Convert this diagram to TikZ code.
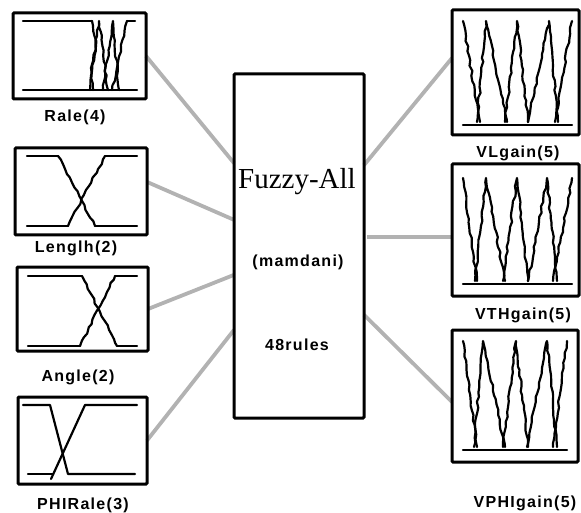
\documentclass[tikz,border=0pt]{standalone}
\usepackage{fontspec}
\setmainfont{Liberation Serif}
\newfontfamily\labfont[LetterSpace=8]{Liberation Sans}
\usetikzlibrary{calc,backgrounds,decorations.pathmorphing}

\begin{document}
\begin{tikzpicture}[x=1pt,y=-1pt,
  fbox/.style={draw, line width=3pt, rounded corners=1pt, inner sep=0pt, outer sep=0pt},
  mf/.style={line width=2.2pt, line join=round, line cap=round},
  jag/.style={mf, decorate, decoration={random steps, segment length=5pt, amplitude=1pt}},
  link/.style={draw=black!30, line width=3.8pt},
  lab/.style={font=\labfont\bfseries\fontsize{16}{16}\selectfont, inner sep=0pt},
]
\pgfmathsetseed{7}
\useasboundingbox (0,0) rectangle (581,513);

% ---------- input variable boxes ----------
\node[fbox, minimum width=133pt, minimum height=86pt]  (rate) at (79.5,56) {};
\node[fbox, minimum width=132pt, minimum height=87pt]  (len)  at (81,191.5) {};
\node[fbox, minimum width=131pt, minimum height=84pt]  (ang)  at (82.5,309) {};
\node[fbox, minimum width=129pt, minimum height=87pt]  (phi)  at (82.5,440.5) {};

\node[lab] (ratelab) at (75,117) {Rale(4)};
\node[lab] (lenlab)  at (76,248) {Lenglh(2)};
\node[lab] (anglab)  at (78,377) {Angle(2)};
\node[lab] (philab)  at (83,505) {PHIRale(3)};

% Rale(4)
\draw[mf] (23,90) -- (137,90);
\draw[mf] (23,21) -- (92,21);
\draw[jag] (92,21) -- (96,45) -- (91,68) -- (93,90);
\draw[jag] (90,90) -- (99,21) -- (108,90);
\draw[jag] (103,90) -- (113,21) -- (119,90);
\draw[jag] (112,90) -- (127,21);
\draw[mf] (127,21) -- (135,21);

% Lenglh(2)
\draw[mf] (27,156) -- (58,156);
\draw[jag] (58,156) -- (95,226);
\draw[mf] (95,226) -- (137,226);
\draw[mf] (27,226) -- (68,226);
\draw[jag] (68,226) -- (105,156);
\draw[mf] (105,156) -- (137,156);

% Angle(2)
\draw[mf] (28,276) -- (82,276);
\draw[jag] (82,276) -- (117,346);
\draw[mf] (117,346) -- (137,346);
\draw[mf] (28,346) -- (80,346);
\draw[jag] (80,346) -- (115,276);
\draw[mf] (115,276) -- (137,276);

% PHIRale(3)
\draw[mf] (23,405) -- (50,405) -- (68,474) -- (135,474);
\draw[mf] (28,474) -- (53,474);
\draw[mf] (51,479) -- (85,405) -- (137,405);

% ---------- rule block ----------
\node[fbox, minimum width=130pt, minimum height=344pt] (fz) at (299,246) {};
\node[font=\fontsize{29}{29}\selectfont, inner sep=0pt] (fzname) at (297,182) {Fuzzy-All};
\node[lab] (fztype)  at (298,262) {(mamdani)};
\node[lab] (fzrules) at (297,345) {48rules};

% ---------- output variable boxes ----------
\node[fbox, minimum width=127pt, minimum height=125pt] (vl)   at (515.5,72.5) {};
\node[fbox, minimum width=127pt, minimum height=132pt] (vth)  at (515.5,230) {};
\node[fbox, minimum width=126pt, minimum height=132pt] (vphi) at (515,396) {};

\node[lab] (vllab)   at (518,153) {VLgain(5)};
\node[lab] (vthlab)  at (523,315) {VTHgain(5)};
\node[lab] (vphilab) at (525,503) {VPHIgain(5)};

% VLgain(5)
\draw[mf] (463,125) -- (572,125);
\draw[jag] (463,21) -- (480,122);
\draw[jag] (477,122) -- (486,21) -- (507,122);
\draw[jag] (505,122) -- (517,21) -- (528,122);
\draw[jag] (528,122) -- (549,21) -- (558,122);
\draw[jag] (555,122) -- (572,21);

% VTHgain(5)
\draw[mf] (463,284) -- (572,284);
\draw[jag] (463,178) -- (477,281);
\draw[jag] (475,281) -- (486,178) -- (505,281);
\draw[jag] (503,281) -- (517,178) -- (528,281);
\draw[jag] (528,281) -- (547,178) -- (557,281);
\draw[jag] (553,281) -- (572,178);

% VPHIgain(5)
\draw[mf] (463,450) -- (567,450);
\draw[jag] (463,341) -- (477,447);
\draw[jag] (474,447) -- (483,341) -- (505,447);
\draw[jag] (503,447) -- (516,341) -- (528,447);
\draw[jag] (527,447) -- (547,341) -- (557,447);
\draw[jag] (553,447) -- (567,341);

% ---------- connectors ----------
\begin{scope}[on background layer]
\draw[link] (rate.east) -- ($(fz.north west)!0.259!(fz.south west)$);
\draw[link] ($(len.north east)!0.39!(len.south east)$) -- ($(fz.north west)!0.424!(fz.south west)$);
\draw[link] (ang.east) -- ($(fz.north west)!0.584!(fz.south west)$);
\draw[link] (phi.east) -- ($(fz.north west)!0.744!(fz.south west)$);
\draw[link] ($(fz.north east)!0.265!(fz.south east)$) -- ($(vl.north west)!0.384!(vl.south west)$);
\draw[link, shorten <=3pt] ($(fz.north east)!0.474!(fz.south east)$) -- ($(vth.north west)!0.553!(vth.south west)$);
\draw[link] ($(fz.north east)!0.70!(fz.south east)$) -- ($(vphi.north west)!0.545!(vphi.south west)$);
\end{scope}
\end{tikzpicture}
\end{document}
